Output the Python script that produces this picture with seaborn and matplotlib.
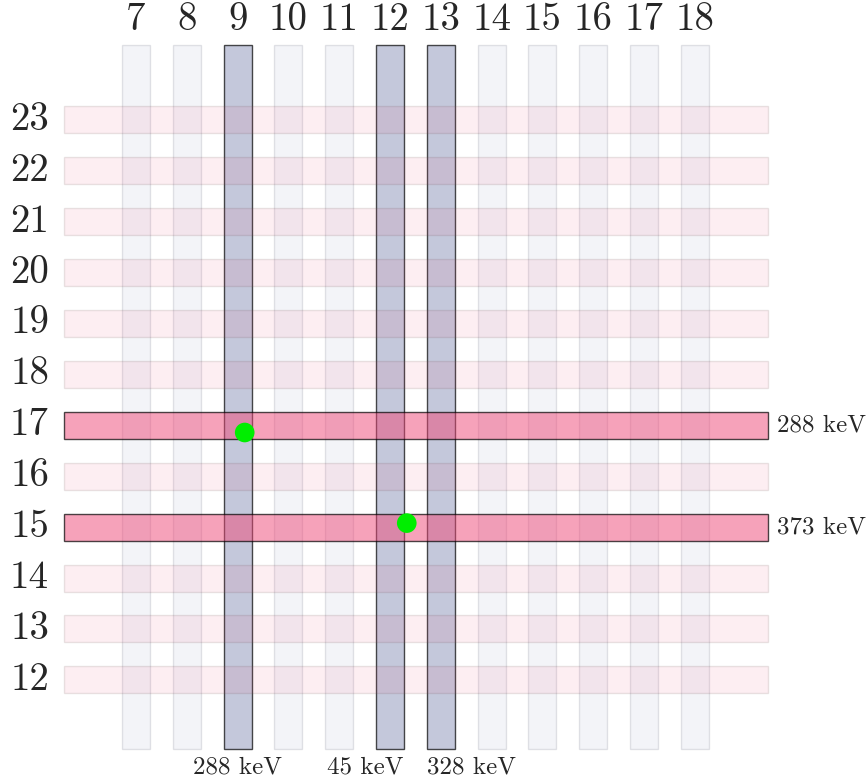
import matplotlib
matplotlib.use("Agg")
import matplotlib.pyplot as plt
import seaborn as sns
import pandas as pd

# ---- data ----
columns = [7, 8, 9, 10, 11, 12, 13, 14, 15, 16, 17, 18]
rows = [12, 13, 14, 15, 16, 17, 18, 19, 20, 21, 22, 23]
hl_columns = [9, 12, 13]
hl_column_labels = ["288 keV", "45 keV", "328 keV"]
hl_rows = [17, 15]
hl_row_labels = ["288 keV", "373 keV"]
dot_x = [9.14, 12.33]
dot_y = [16.86, 15.08]

sns.set_theme(style="white")
plt.rcParams["font.family"] = ["cmr10", "DejaVu Serif"]

fig = plt.figure(figsize=(8.66, 7.83), dpi=100)
ax = fig.add_axes([0, 0, 1, 1])

col_bottom, col_top = 10.64, 24.47
col_w = 0.55
row_left, row_right = 5.583, 19.44
row_h = 0.53

blue = (62 / 255, 75 / 255, 138 / 255)
pink = (239 / 255, 71 / 255, 119 / 255)

for c in columns:
    hl = c in hl_columns
    ax.bar(c, col_top - col_bottom, bottom=col_bottom, width=col_w,
           color=blue + ((0.30,) if hl else (0.06,)),
           edgecolor=(0, 0, 0, 0.7) if hl else (0.3, 0.3, 0.4, 0.15),
           linewidth=1.0, zorder=1)

for r in rows:
    hl = r in hl_rows
    ax.barh(r, row_right - row_left, left=row_left, height=row_h,
            color=pink + ((0.5,) if hl else (0.09,)),
            edgecolor=(0, 0, 0, 0.7) if hl else (0.4, 0.3, 0.3, 0.14),
            linewidth=1.0, zorder=2)

dots = pd.DataFrame({"x": dot_x, "y": dot_y})
sns.scatterplot(data=dots, x="x", y="y", ax=ax, color="#00ee00", s=200,
                edgecolor="none", zorder=5, legend=False)
ax.set_xlabel("")
ax.set_ylabel("")
ax.set_xlim(4.323, 21.37)
ax.set_ylim(9.974, 25.357)
ax.axis("off")

for c in columns:
    ax.text(c, 24.97, str(c), ha="center", va="center", fontsize=28)
for r in rows:
    ax.text(5.287, r, str(r), ha="right", va="center", fontsize=28)

aligns = {"288 keV": "center", "45 keV": "right", "328 keV": "left"}
for c, lab in zip(hl_columns, hl_column_labels):
    ha = aligns[lab]
    x = c if ha == "center" else (c + col_w / 2 if ha == "right" else c - col_w / 2)
    ax.text(x, 10.27, lab, ha=ha, va="center", fontsize=18)

for r, lab in zip(hl_rows, hl_row_labels):
    ax.text(19.62, r, lab, ha="left", va="center", fontsize=18)

fig.savefig("out.png", dpi=100)
